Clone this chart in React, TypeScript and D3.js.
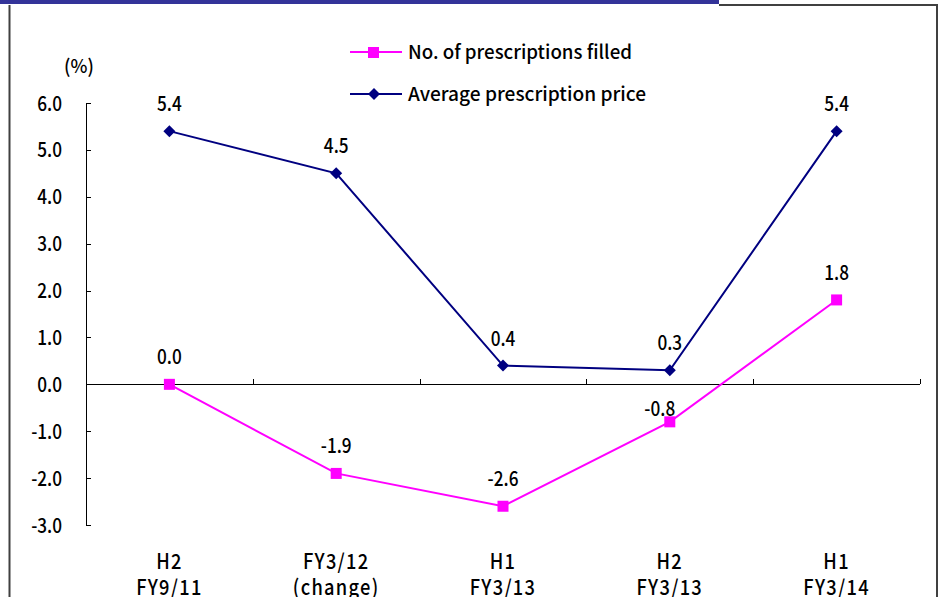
import React from "react";
import * as d3 from "d3";

const categories: string[][] = [
  ["H2", "FY9/11"],
  ["FY3/12", "(change)"],
  ["H1", "FY3/13"],
  ["H2", "FY3/13"],
  ["H1", "FY3/14"],
];
const prescriptionsFilled = [0.0, -1.9, -2.6, -0.8, 1.8];
const averagePrice = [5.4, 4.5, 0.4, 0.3, 5.4];
const yTicks = [6, 5, 4, 3, 2, 1, 0, -1, -2, -3];
const seriesNames = ["No. of prescriptions filled", "Average prescription price"];
// per-label manual nudges (dx, dy) for the filled-series labels
const filledLabelNudge = [
  [0, 0],
  [0, 0],
  [0, 0],
  [-10, 14],
  [0, 0],
];

const W = 943;
const H = 597;
const FONT = "'Noto Sans CJK JP', 'Noto Sans', sans-serif";
const PINK = "#FF00FF";
const NAVY = "#000080";

function T(props: {
  x: number;
  y: number;
  size: number;
  sx?: number;
  anchor?: "start" | "middle" | "end";
  ls?: number;
  children: React.ReactNode;
}) {
  const { x, y, size, sx = 0.85, anchor = "middle", ls = 0, children } = props;
  return (
    <text
      transform={`translate(${x},${y}) scale(${sx},1)`}
      textAnchor={anchor}
      fontSize={size}
      letterSpacing={ls}
      fontWeight={500}
      fill="#000"
    >
      {children}
    </text>
  );
}

export default function App() {
  const x = d3
    .scaleBand<number>()
    .domain(d3.range(categories.length))
    .range([86, 920])
    .padding(0);
  const y = d3.scaleLinear().domain([-3, 6]).range([525, 103]);
  const cx = (i: number) => (x(i) as number) + x.bandwidth() / 2;

  const line = d3
    .line<number>()
    .x((_, i) => cx(i))
    .y((d) => y(d));

  const boundaries = d3.range(categories.length + 1).map((i) =>
    i < categories.length ? (x(i) as number) : (x(i - 1) as number) + x.bandwidth()
  );

  const diamond = (px: number, py: number, r = 6) =>
    `M${px},${py - r}L${px + r},${py}L${px},${py + r}L${px - r},${py}Z`;

  return (
    <svg
      width={W}
      height={H}
      style={{ position: "absolute", left: 0, top: 0, display: "block", background: "#fff" }}
      fontFamily={FONT}
    >
      {/* frame */}
      <rect x={0} y={0} width={719} height={4} fill="#333399" />
      <path d="M719,5H937V597 M9.5,5V597" fill="none" stroke="#404040" strokeWidth={2} />

      {/* y axis */}
      <line x1={86.5} x2={86.5} y1={y(6)} y2={y(-3)} stroke="#000" strokeWidth={1} />
      {yTicks.map((t) => (
        <g key={t}>
          <line x1={86} x2={91} y1={Math.round(y(t)) + 0.5} y2={Math.round(y(t)) + 0.5} stroke="#000" />
          <T x={62} y={y(t) + 7.5} size={20} sx={0.86} anchor="end">
            {t.toFixed(1)}
          </T>
        </g>
      ))}
      <T x={79} y={73} size={19} sx={0.95}>
        (%)
      </T>

      {/* x axis at zero */}
      <line x1={86} x2={920} y1={Math.round(y(0)) + 0.5} y2={Math.round(y(0)) + 0.5} stroke="#000" />
      {boundaries.map((b, i) => (
        <line
          key={i}
          x1={Math.round(b) + 0.5}
          x2={Math.round(b) + 0.5}
          y1={Math.round(y(0))}
          y2={Math.round(y(0)) - 5}
          stroke="#000"
        />
      ))}
      {categories.map((c, i) => (
        <g key={i}>
          <T x={cx(i)} y={569} size={21} sx={0.87} ls={1.5}>
            {c[0]}
          </T>
          <T x={cx(i)} y={595} size={21} sx={0.87} ls={1.5}>
            {c[1]}
          </T>
        </g>
      ))}

      {/* series lines */}
      <path d={line(averagePrice) || ""} fill="none" stroke={NAVY} strokeWidth={2} />
      <path d={line(prescriptionsFilled) || ""} fill="none" stroke={PINK} strokeWidth={2} />

      {averagePrice.map((v, i) => (
        <g key={"a" + i}>
          <path d={diamond(cx(i), y(v))} fill={NAVY} />
          <T x={cx(i)} y={y(v) - 20} size={20} sx={0.86}>
            {v.toFixed(1)}
          </T>
        </g>
      ))}
      {prescriptionsFilled.map((v, i) => (
        <g key={"p" + i}>
          <rect x={cx(i) - 5.5} y={y(v) - 5.5} width={11} height={11} fill={PINK} />
          <T
            x={cx(i) + filledLabelNudge[i][0]}
            y={y(v) - 20 + filledLabelNudge[i][1]}
            size={20}
            sx={0.86}
          >
            {v.toFixed(1)}
          </T>
        </g>
      ))}

      {/* legend */}
      <line x1={350} x2={402} y1={52} y2={52} stroke={PINK} strokeWidth={2} />
      <rect x={368} y={47} width={11} height={11} fill={PINK} />
      <text
        x={408}
        y={59}
        fontSize={19}
        fontWeight={500}
        fill="#000"
        textLength={224}
        lengthAdjust="spacingAndGlyphs"
      >
        {seriesNames[0]}
      </text>
      <line x1={350} x2={402} y1={94} y2={94} stroke={NAVY} strokeWidth={2} />
      <path d={diamond(374, 94)} fill={NAVY} />
      <text
        x={408}
        y={101}
        fontSize={19}
        fontWeight={500}
        fill="#000"
        textLength={238}
        lengthAdjust="spacingAndGlyphs"
      >
        {seriesNames[1]}
      </text>
    </svg>
  );
}
